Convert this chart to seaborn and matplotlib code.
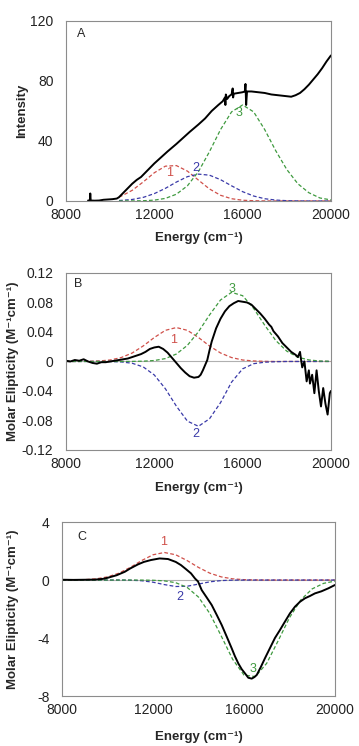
import numpy as np
import matplotlib
matplotlib.use("Agg")
import matplotlib.pyplot as plt
import seaborn as sns

# ==============================
# DATA
# ==============================
# Panel A - absorption
xA_black = [9000, 9080, 9100, 9120, 9300, 9500, 9700, 9900, 10100, 10300, 10400, 10600, 10800,
            11000, 11200, 11400, 11600, 11800, 12000, 12300, 12600, 13000, 13300, 13600, 14000,
            14300, 14600, 14900, 15100, 15200, 15220, 15240, 15300, 15400, 15500, 15550, 15570,
            15600, 15800, 16000, 16100, 16130, 16160, 16200, 16400, 16700, 17000, 17300, 17600,
            17900, 18200, 18400, 18600, 18800, 19000, 19200, 19400, 19600, 19800, 20000]
yA_black = [0.3, 0.3, 5.0, 0.3, 0.2, 0.3, 0.8, 1.0, 1.2, 1.6, 2.5, 5.5, 8.5,
            11.5, 14, 16, 19, 22, 25, 29, 33, 38, 42, 46, 51,
            55, 60, 64, 66.5, 69, 64, 71, 68, 70, 71, 75, 69,
            71.5, 72, 72.5, 73, 78, 64, 73, 73, 72.5, 72, 71, 70.5,
            70, 69.5, 70.5, 72, 74.5, 77.5, 81, 84.5, 88.5, 93, 97]
xA_fit = [10400, 10500, 11000, 11500, 12000, 12500, 13000, 13500, 14000, 14500, 15000,
          15500, 16000, 16500, 17000, 17500, 18000, 18500, 19000, 19500, 20000]
yA_1 = [2.7, 3.2, 7.1, 12.7, 18.8, 23.2, 23.6, 19.9, 13.9, 8.0, 3.8,
        1.5, 0.5, 0.15, 0.04, 0, 0, 0, 0, 0, 0]
yA_2 = [0.3, 0.4, 1.0, 2.4, 4.9, 8.4, 12.6, 16.2, 17.9, 17.2, 14.2,
        10.1, 6.2, 3.3, 1.5, 0.6, 0.2, 0.05, 0, 0, 0]
yA_3 = [0, 0.01, 0.03, 0.16, 0.56, 1.7, 4.5, 10.1, 19.6, 32.9, 47.6,
        59.4, 64, 59.4, 47.6, 33.5, 21, 11.5, 5.5, 2.0, 0.7]

# Panel B - CD
xB_black = [8000, 8200, 8400, 8600, 8800, 9000, 9200, 9400, 9600, 9800, 10000, 10200, 10400,
            10600, 10800, 11000, 11200, 11400, 11600, 11800, 12000, 12200, 12400, 12600, 12800,
            13000, 13200, 13400, 13600, 13800, 14000, 14100, 14200, 14300, 14400, 14500, 14600,
            14700, 14800, 15000, 15200, 15400, 15600, 15800, 16000, 16200, 16400, 16600, 16800,
            17000, 17200, 17300, 17400, 17600, 17800, 18000, 18200, 18400, 18500, 18600, 18650,
            18700, 18800, 18900, 19000, 19050, 19150, 19250, 19350, 19450, 19550, 19650, 19750,
            19850, 19950, 20000]
yB_black = [0.001, 0.000, 0.002, 0.001, 0.003, 0.000, -0.002, -0.003, -0.001, -0.001, 0.000, 0.001, 0.002,
            0.003, 0.004, 0.006, 0.008, 0.010, 0.013, 0.017, 0.019, 0.020, 0.017, 0.012, 0.005,
            -0.002, -0.009, -0.015, -0.020, -0.022, -0.021, -0.018, -0.012, -0.005, 0.002, 0.015, 0.027,
            0.036, 0.045, 0.058, 0.068, 0.075, 0.079, 0.082, 0.081, 0.080, 0.077, 0.071, 0.065,
            0.058, 0.050, 0.047, 0.041, 0.034, 0.025, 0.019, 0.013, 0.009, 0.006, 0.013, 0.002,
            -0.008, 0.000, -0.027, -0.012, -0.030, -0.018, -0.043, -0.012, -0.040, -0.061, -0.036, -0.057,
            -0.072, -0.043, -0.040]
xB_fit = [8000, 8500, 9000, 9500, 10000, 10500, 11000, 11500, 12000, 12500, 13000, 13500, 14000,
          14500, 15000, 15500, 16000, 16500, 17000, 17500, 18000, 18500, 19000, 19500, 20000]
yB_1 = [0, 0, 0.0002, 0.0007, 0.0020, 0.0053, 0.0115, 0.0211, 0.0325, 0.0422, 0.046, 0.0422, 0.0325,
        0.0211, 0.0115, 0.0053, 0.0020, 0.0007, 0.0002, 0, 0, 0, 0, 0, 0]
yB_2 = [0, 0, 0, 0, -0.0001, -0.0006, -0.0024, -0.0074, -0.0183, -0.0369, -0.0606, -0.0809, -0.0879,
        -0.0777, -0.0558, -0.028, -0.010, -0.003, -0.001, -0.0003, 0, 0, 0, 0, 0]
yB_3 = [0, 0, 0, 0, 0, 0, 0.0001, 0.0004, 0.0013, 0.0039, 0.0101, 0.0219, 0.0403,
        0.0630, 0.0834, 0.0937, 0.0892, 0.0719, 0.0492, 0.0285, 0.0140, 0.0058, 0.0021, 0.0006, 0.0002]

# Panel C - MCD
xC_black = [8000, 8500, 9000, 9440, 9800, 10020, 10400, 10760, 11000, 11340, 11600, 11910, 12290,
            12660, 13000, 13230, 13450, 13670, 13850, 13980, 14140, 14360, 14580, 14800, 15020,
            15240, 15460, 15600, 15750, 15900, 16040, 16190, 16340, 16450, 16560, 16740, 16920,
            17140, 17360, 17580, 17800, 18020, 18240, 18460, 18680, 18900, 19120, 19400, 19710, 20000]
yC_black = [0.02, 0.01, 0.02, 0.03, 0.08, 0.16, 0.33, 0.57, 0.8, 1.08, 1.25, 1.38, 1.49,
            1.45, 1.25, 1.03, 0.75, 0.46, 0.10, -0.1, -0.69, -1.2, -1.72, -2.4, -3.1,
            -3.9, -4.71, -5.25, -5.75, -6.15, -6.43, -6.74, -6.8, -6.7, -6.55, -6.0, -5.4,
            -4.7, -4.0, -3.45, -2.87, -2.3, -1.84, -1.5, -1.26, -1.1, -0.92, -0.78, -0.57, -0.34]
xC_fit = xB_fit
yC_1 = [0, 0.007, 0.027, 0.083, 0.217, 0.473, 0.870, 1.343, 1.742, 1.9, 1.742, 1.343, 0.870,
        0.473, 0.217, 0.083, 0.027, 0.007, 0, 0, 0, 0, 0, 0, 0]
yC_2 = [0, 0, 0, 0, 0, 0, -0.010, -0.048, -0.149, -0.314, -0.446, -0.429, -0.279,
        -0.123, -0.037, -0.007, -0.001, 0, 0, 0, 0, 0, 0, 0, 0]
yC_3 = [0, 0, 0, 0, 0, 0, -0.001, -0.003, -0.015, -0.057, -0.184, -0.506, -1.175,
        -2.313, -3.860, -5.463, -6.552, -6.661, -5.740, -4.195, -2.598, -1.363, -0.607, -0.229, -0.073]

x_ticks = [8000, 12000, 16000, 20000]

# ==============================
# STYLE
# ==============================
sns.set_style("white")
plt.rcParams['font.family'] = ['Liberation Sans', 'DejaVu Sans']
plt.rcParams['axes.unicode_minus'] = False

RED = "#d0504a"
BLUE = "#3a3aa8"
GREEN = "#3f9a3f"
SPINE = "#8c8c8c"

fig = plt.figure(figsize=(3.59, 7.46), dpi=100)
axA = fig.add_axes([0.1838, 0.7306, 0.738, 0.2413])
axB = fig.add_axes([0.1838, 0.3968, 0.738, 0.2373])
axC = fig.add_axes([0.1727, 0.0670, 0.7604, 0.2332])


def style_axis(ax, ylim, yticks, ylabels, ylab, xlab_y, ylab_x):
    ax.set_xlim(8000, 20000)
    ax.set_ylim(*ylim)
    ax.set_xticks(x_ticks)
    ax.set_xticklabels([str(t) for t in x_ticks])
    ax.set_yticks(yticks)
    ax.set_yticklabels(ylabels)
    ax.tick_params(length=0, labelsize=10, colors="#222222")
    ax.tick_params(axis="x", pad=5)
    ax.tick_params(axis="y", pad=9)
    for s in ax.spines.values():
        s.set_visible(True)
        s.set_color(SPINE)
        s.set_linewidth(0.8)
    ax.set_xlabel("Energy (cm\u207b\u00b9)", fontsize=9.5, fontweight="bold")
    ax.set_ylabel(ylab, fontsize=9.5, fontweight="bold")
    ax.xaxis.set_label_coords(0.5, xlab_y)
    ax.yaxis.set_label_coords(ylab_x, 0.5)


def draw_fits(ax, x, y1, y2, y3):
    for y, c in [(y1, RED), (y2, BLUE), (y3, GREEN)]:
        sns.lineplot(x=x, y=y, ax=ax, color=c, lw=0.9, linestyle=(0, (3, 1.8)),
                     estimator=None, sort=False)


# ---------- A ----------
draw_fits(axA, xA_fit, yA_1, yA_2, yA_3)
sns.lineplot(x=xA_black, y=yA_black, ax=axA, color="black", lw=1.4, estimator=None, sort=False)
style_axis(axA, (0, 120), [0, 40, 80, 120], ["0", "40", "80", "120"], "Intensity", -0.17, -0.142)
axA.text(12670, 18.5, "1", color=RED, fontsize=9, ha="center", va="center")
axA.text(13900, 21.8, "2", color=BLUE, fontsize=9, ha="center", va="center")
axA.text(15850, 58.5, "3", color=GREEN, fontsize=9, ha="center", va="center")
axA.text(0.04, 0.925, "A", transform=axA.transAxes, fontsize=9, ha="left", va="center")

# ---------- B ----------
axB.axhline(0, color="#b0b0b0", lw=0.8, zorder=0)
draw_fits(axB, xB_fit, yB_1, yB_2, yB_3)
sns.lineplot(x=xB_black, y=yB_black, ax=axB, color="black", lw=1.4, estimator=None, sort=False)
style_axis(axB, (-0.12, 0.12), [-0.12, -0.08, -0.04, 0, 0.04, 0.08, 0.12],
           ["-0.12", "-0.08", "-0.04", "0", "0.04", "0.08", "0.12"],
           "Molar Elipticity (M\u207b\u00b9cm\u207b\u00b9)", -0.18, -0.179)
axB.text(12890, 0.029, "1", color=RED, fontsize=9, ha="center", va="center")
axB.text(13900, -0.099, "2", color=BLUE, fontsize=9, ha="center", va="center")
axB.text(15530, 0.098, "3", color=GREEN, fontsize=9, ha="center", va="center")
axB.text(0.03, 0.94, "B", transform=axB.transAxes, fontsize=9, ha="left", va="center")

# ---------- C ----------
axC.axhline(0, color="#b0b0b0", lw=0.8, zorder=0)
draw_fits(axC, xC_fit, yC_1, yC_2, yC_3)
sns.lineplot(x=xC_black, y=yC_black, ax=axC, color="black", lw=1.4, estimator=None, sort=False)
style_axis(axC, (-8, 4), [-8, -4, 0, 4], ["-8", "-4", "0", "4"],
           "Molar Elipticity (M\u207b\u00b9cm\u207b\u00b9)", -0.2, -0.159)
axC.text(12480, 2.64, "1", color=RED, fontsize=9, ha="center", va="center")
axC.text(13200, -1.15, "2", color=BLUE, fontsize=9, ha="center", va="center")
axC.text(16410, -6.16, "3", color=GREEN, fontsize=9, ha="center", va="center")
axC.text(0.056, 0.915, "C", transform=axC.transAxes, fontsize=9, ha="left", va="center")

fig.savefig("out.png", dpi=100)
